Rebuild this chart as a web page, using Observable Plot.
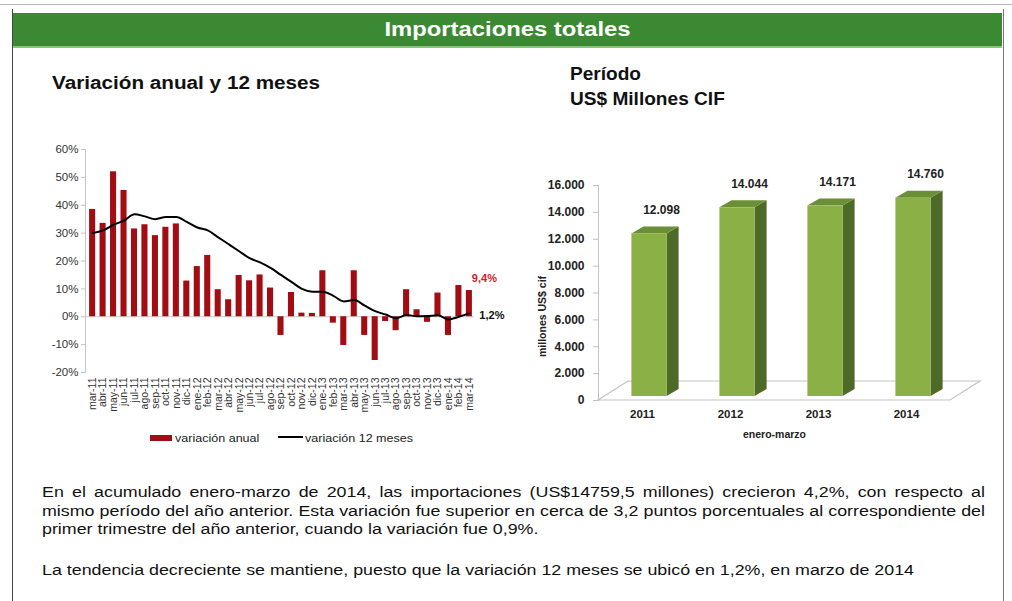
<!DOCTYPE html>
<html><head><meta charset="utf-8">
<script src="https://cdn.jsdelivr.net/npm/d3@7"></script>
<script src="https://cdn.jsdelivr.net/npm/@observablehq/plot@0.6"></script>
<style>
  html,body{margin:0;padding:0;background:#fff;}
  body{width:1012px;height:601px;position:relative;overflow:hidden;font-family:"Liberation Sans",Arial,sans-serif;color:#111;}
  .abs{position:absolute;}
  #topline{left:0;top:4px;width:1012px;height:1px;background:#b8b8b8;}
  #box{left:12px;top:9px;width:990px;height:600px;border-left:1.5px solid #444;border-right:1px solid #777;}
  #head{left:13px;top:13px;width:989px;height:33px;background:#3b8a33;border-bottom:2px solid #8cc47a;}
  #head span{position:absolute;left:0;width:989px;text-align:center;color:#fff;font-weight:bold;font-size:20px;line-height:33px;transform:scaleX(1.19);transform-origin:center;}
  .ttl{font-weight:bold;font-size:18px;line-height:25px;color:#111;transform-origin:left top;white-space:nowrap;}
  .leg{font-size:11px;color:#222;transform:scaleX(1.14);transform-origin:left top;white-space:nowrap;line-height:12px;}
  .para{font-size:15.5px;line-height:18.5px;color:#111;transform:scaleX(1.15);transform-origin:left top;}
</style>
</head><body>
<div id="topline" class="abs"></div>
<div id="box" class="abs"></div>
<div id="head" class="abs"><span>Importaciones totales</span></div>
<div class="abs ttl" style="left:52px;top:71px;transform:scaleX(1.15);">Variación anual y 12 meses</div>
<div class="abs ttl" style="left:570px;top:62px;transform:scaleX(1.06);">Período<br>US$ Millones CIF</div>
<div id="left" class="abs" style="left:40px;top:140px;"></div>
<svg class="abs" style="left:150px;top:435px;" width="24" height="8"><rect x="0" y="0" width="22" height="6" fill="#a10d12"/></svg>
<div class="abs leg" style="left:175px;top:432px;">variación anual</div>
<svg class="abs" style="left:278px;top:433px;" width="26" height="8"><line x1="0" y1="4" x2="25" y2="4" stroke="#000" stroke-width="2"/></svg>
<div class="abs leg" style="left:305px;top:432px;">variación 12 meses</div>
<div id="right" class="abs" style="left:520px;top:160px;"></div>
<div class="abs para" style="left:42px;top:483px;width:820px;text-align:justify;">En el acumulado enero-marzo de 2014, las importaciones (US$14759,5 millones) crecieron 4,2%, con respecto al mismo período del año anterior. Esta variación fue superior en cerca de 3,2 puntos porcentuales al correspondiente del primer trimestre del año anterior, cuando la variación fue 0,9%.</div>
<div class="abs para" style="left:42px;top:561px;width:820px;white-space:nowrap;">La tendencia decreciente se mantiene, puesto que la variación 12 meses se ubicó en 1,2%, en marzo de 2014</div>
<script>
// ---------- Data ----------
const meses = ["mar-11","abr-11","may-11","jun-11","jul-11","ago-11","sep-11","oct-11","nov-11","dic-11",
  "ene-12","feb-12","mar-12","abr-12","may-12","jun-12","jul-12","ago-12","sep-12","oct-12","nov-12","dic-12",
  "ene-13","feb-13","mar-13","abr-13","may-13","jun-13","jul-13","ago-13","sep-13","oct-13","nov-13","dic-13",
  "ene-14","feb-14","mar-14"];
const variacionAnual = [38.5,33.5,52.0,45.3,31.5,33.0,29.1,32.1,33.3,12.8,
  18.0,22.0,9.7,6.1,14.8,12.9,15.0,10.3,-6.7,8.7,1.3,1.2,
  16.5,-2.3,-10.3,16.5,-6.7,-15.7,-1.7,-5.0,9.7,2.5,-2.0,8.5,
  -6.7,11.2,9.4];
const variacion12 = [30.0,31.0,33.0,34.5,36.8,36.0,35.0,35.8,35.8,34.0,
  32.0,31.0,28.5,26.0,23.5,21.0,19.5,17.5,15.0,12.5,10.0,9.0,
  9.0,7.5,5.5,6.0,4.0,2.0,0.8,-0.5,0.6,0.2,0.3,0.5,
  -1.0,0.0,1.2];
const ticksPct = [-20,-10,0,10,20,30,40,50,60];

const anios = ["2011","2012","2013","2014"];
const importaciones = [12098, 14044, 14171, 14760];
const ticksMill = [0,2000,4000,6000,8000,10000,12000,14000,16000];

// ---------- Left chart ----------
const dataL = meses.map((m,i)=>({mes:m, anual:variacionAnual[i], doce:variacion12[i]}));
const last = dataL[dataL.length-1];
const fontFam = "'Liberation Sans', Arial, sans-serif";

const left = Plot.plot({
  width: 480, height: 290,
  marginLeft: 45, marginRight: 46, marginTop: 9, marginBottom: 58,
  style: {fontFamily: fontFam, fontSize: "11.5px", color: "#333", background: "transparent", overflow: "visible"},
  x: {type: "band", domain: meses, paddingInner: 0.42, paddingOuter: 0.2, insetLeft: 2, round: false},
  y: {domain: [-20, 60]},
  marks: [
    Plot.frame({anchor: "left", stroke: "#c8c8c8"}),
    Plot.ruleY([0], {stroke: "#c8c8c8"}),
    Plot.axisY({ticks: ticksPct, tickFormat: d => d + "%", tickSize: 4, tickPadding: 3, stroke: "#c0c0c0", label: null}),
    Plot.axisX({tickRotate: -90, tickSize: 0, tickPadding: 5, fontSize: 10.5, label: null}),
    Plot.barY(dataL, {x: "mes", y: "anual", fill: "#a10d12"}),
    Plot.line(dataL, {x: "mes", y: "doce", stroke: "#000", strokeWidth: 2, curve: "monotone-x"}),
    Plot.text([last], {x: "mes", y: "anual", text: d => String(d.anual).replace(".", ",") + "%", dx: 15, dy: -12, fill: "#d0202a", fontWeight: "bold", fontSize: 11}),
    Plot.text([last], {x: "mes", y: "doce", text: d => String(d.doce).replace(".", ",") + "%", dx: 10, dy: 2, textAnchor: "start", fill: "#111", fontWeight: "bold", fontSize: 11})
  ]
});
document.getElementById("left").appendChild(left);

// ---------- Right chart ----------
const locale = d3.formatLocale({decimal: ",", thousands: ".", grouping: [3], currency: ["", ""]});
const fmt = locale.format(",");
const dataR = anios.map((a,i)=>({anio:a, valor:importaciones[i]}));

function cajas3d(index, scales, values, dimensions) {
  const sx = scales.x, sy = scales.y;
  const bw = sx.bandwidth ? sx.bandwidth() : 35;
  const {width, height, marginLeft, marginRight, marginBottom} = dimensions;
  const g = d3.create("svg:g");
  const fx0 = marginLeft, fx1 = width - marginRight, fy = height - marginBottom;
  const fdx = 30, fdy = -19;
  g.append("polygon")
    .attr("points", [[fx0,fy],[fx1,fy],[fx1+fdx,fy+fdy],[fx0+fdx,fy+fdy]].map(p=>p.join(",")).join(" "))
    .attr("fill", "none").attr("stroke", "#c4c4c4").attr("stroke-width", 1.2);
  const ox = 7, oy = -4, ddx = 12, ddy = -7;
  dataR.forEach(d => {
    const x0 = sx(d.anio) + ox, x1 = x0 + bw;
    const yb = sy(0) + oy, yt = sy(d.valor) + oy;
    g.append("polygon")
      .attr("points", [[x1,yb],[x1+ddx,yb+ddy],[x1+ddx,yt+ddy],[x1,yt]].map(p=>p.join(",")).join(" "))
      .attr("fill", "#4e6a28");
    g.append("polygon")
      .attr("points", [[x0,yt],[x1,yt],[x1+ddx,yt+ddy],[x0+ddx,yt+ddy]].map(p=>p.join(",")).join(" "))
      .attr("fill", "#6a8f34");
    g.append("rect").attr("x", x0).attr("y", yt).attr("width", bw).attr("height", yb - yt)
      .attr("fill", "#8bb046");
  });
  return g.node();
}

const right = Plot.plot({
  width: 470, height: 290,
  marginLeft: 78, marginRight: 40, marginTop: 25, marginBottom: 50,
  style: {fontFamily: fontFam, fontSize: "12px", color: "#222", background: "transparent", overflow: "visible"},
  x: {type: "band", domain: anios, paddingInner: 0.6, paddingOuter: 0.3, round: false},
  y: {domain: [0, 16000]},
  marks: [
    Plot.frame({anchor: "left", stroke: "#c4c4c4"}),
    Plot.axisY({ticks: ticksMill, tickFormat: fmt, tickSize: 5, tickPadding: 9, stroke: "#c0c0c0", fontWeight: "bold", label: null}),
    Plot.axisX({tickSize: 0, tickPadding: 9, fontWeight: "bold", fontSize: 11.5, label: null}),
    cajas3d,
    Plot.text(dataR, {x: "anio", y: "valor", text: d => fmt(d.valor), dx: 19, dy: -28, fontWeight: "bold", fontSize: 12, fill: "#222"}),
    Plot.text(["enero-marzo"], {frameAnchor: "bottom", dy: 37, fontWeight: "bold", fontSize: 10.5, fill: "#222"}),
    Plot.text(["millones US$ cif"], {frameAnchor: "left", rotate: -90, dx: -56, dy: 64, fontWeight: "bold", fontSize: 10.5, fill: "#222"})
  ]
});
document.getElementById("right").appendChild(right);
</script>
</body></html>
